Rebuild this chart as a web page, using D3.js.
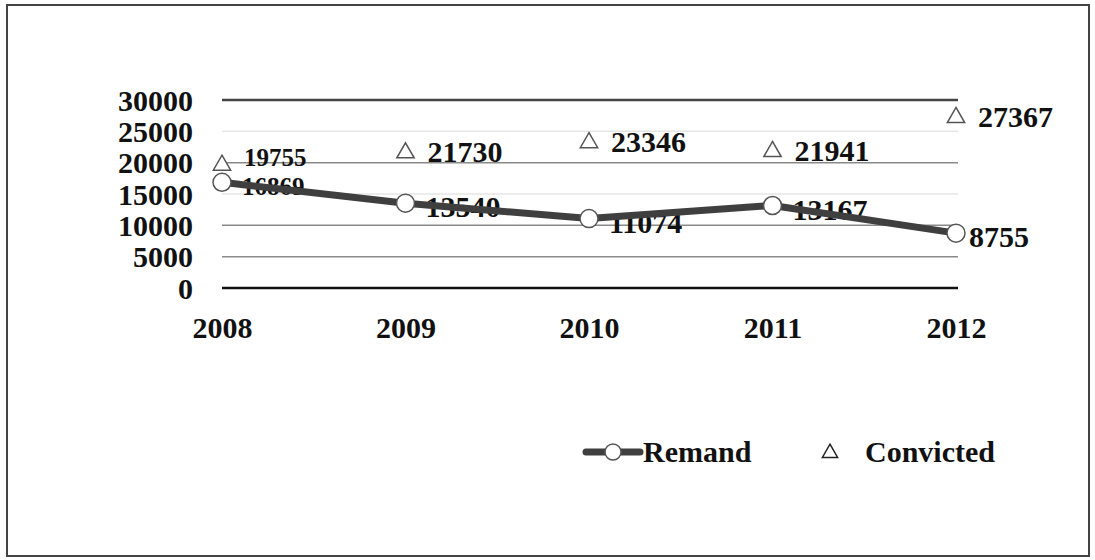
<!DOCTYPE html>
<html>
<head>
<meta charset="utf-8">
<script src="https://cdn.jsdelivr.net/npm/d3@7/dist/d3.min.js"></script>
<style>
  html, body { margin: 0; padding: 0; background: #fff; }
  svg { display: block; }
  text { font-family: "Liberation Serif", "Times New Roman", serif; font-weight: bold; fill: #111; }
</style>
</head>
<body>
<svg id="chart" width="1095" height="560"></svg>
<script>
const years = ["2008", "2009", "2010", "2011", "2012"];
const remand = [16869, 13540, 11074, 13167, 8755];
const convicted = [19755, 21730, 23346, 21941, 27367];
const yTicks = [0, 5000, 10000, 15000, 20000, 25000, 30000];

const svg = d3.select("#chart");
const fontSize = 30;

// outer frame
svg.append("rect").attr("x", 7).attr("y", 5).attr("width", 1082).attr("height", 551)
  .attr("fill", "#fff").attr("stroke", "#444").attr("stroke-width", 2);

const x = d3.scalePoint().domain(years).range([222, 956]).padding(0);
const y = d3.scaleLinear().domain([0, 30000]).range([288, 100]);

// gridlines
svg.append("g").selectAll("line").data(yTicks).join("line")
  .attr("x1", 222).attr("x2", 958)
  .attr("y1", d => y(d)).attr("y2", d => y(d))
  .attr("stroke", d => d === 0 ? "#111" : (d === 30000 ? "#444" : (d === 25000 || d === 15000 ? "#e6e6e6" : "#8a8a8a")))
  .attr("stroke-width", d => (d === 0 || d === 30000) ? 2.5 : 1.5);

// y axis labels
const yAxis = d3.axisLeft(y).tickValues(yTicks).tickSize(0).tickPadding(0).tickFormat(d3.format("d"));
const ya = svg.append("g").attr("transform", "translate(193,0)").call(yAxis);
ya.select(".domain").remove();
ya.selectAll("text").attr("font-size", fontSize).attr("font-family", null).attr("dy", "0.34em").attr("fill", "#111");

// x axis labels
const xAxis = d3.axisBottom(x).tickSize(0).tickPadding(0);
const xa = svg.append("g").attr("transform", "translate(0,317)").call(xAxis);
xa.select(".domain").remove();
xa.selectAll("text").attr("font-size", fontSize).attr("font-family", null).attr("dy", "0.71em").attr("fill", "#111");

const remData = years.map((yr, i) => ({ yr, v: remand[i] }));
const convData = years.map((yr, i) => ({ yr, v: convicted[i] }));

// Remand labels (under line)
svg.append("g").selectAll("text").data(remData).join("text")
  .attr("x", d => x(d.yr) + (d.yr === "2012" ? 13 : 20))
  .attr("y", (d, i) => y(d.v) + 4)
  .attr("dy", "0.34em")
  .attr("font-size", (d, i) => i === 0 ? 25 : fontSize)
  .attr("fill", (d, i) => i === 4 ? "#111" : "#333")
  .text(d => d.v);

// Remand line
svg.append("path").datum(remData)
  .attr("fill", "none").attr("stroke", "#3f3f3f").attr("stroke-width", 7)
  .attr("stroke-linejoin", "round")
  .attr("d", d3.line().x(d => x(d.yr)).y(d => y(d.v)));

svg.append("g").selectAll("circle").data(remData).join("circle")
  .attr("cx", d => x(d.yr)).attr("cy", d => y(d.v)).attr("r", 9)
  .attr("fill", "#fff").attr("stroke", "#555").attr("stroke-width", 1.5);

// Convicted markers
const tri = d3.symbol().type(d3.symbolTriangle).size(130);
svg.append("g").selectAll("path").data(convData).join("path")
  .attr("transform", d => `translate(${x(d.yr)},${y(d.v) + 1})`)
  .attr("d", tri).attr("fill", "#fff").attr("stroke", "#555").attr("stroke-width", 1.5);

svg.append("g").selectAll("text").data(convData).join("text")
  .attr("x", d => x(d.yr) + 22)
  .attr("y", (d, i) => y(d.v) - (i === 0 ? 7 : 0))
  .attr("dy", "0.34em")
  .attr("font-size", (d, i) => i === 0 ? 25 : fontSize)
  .attr("fill", (d, i) => i === 0 ? "#333" : "#111")
  .text(d => d.v);

// Legend
const leg = svg.append("g");
leg.append("line").attr("x1", 586).attr("x2", 640).attr("y1", 452).attr("y2", 452)
  .attr("stroke", "#3f3f3f").attr("stroke-width", 7).attr("stroke-linecap", "round");
leg.append("circle").attr("cx", 613).attr("cy", 452).attr("r", 8)
  .attr("fill", "#fff").attr("stroke", "#555").attr("stroke-width", 1.5);
leg.append("text").attr("x", 643).attr("y", 452).attr("dy", "0.34em").attr("font-size", fontSize).text("Remand");
leg.append("path").attr("transform", "translate(830,453)").attr("d", d3.symbol().type(d3.symbolTriangle).size(100))
  .attr("fill", "#fff").attr("stroke", "#222").attr("stroke-width", 1.5);
leg.append("text").attr("x", 865).attr("y", 452).attr("dy", "0.34em").attr("font-size", fontSize).text("Convicted");
</script>
</body>
</html>
